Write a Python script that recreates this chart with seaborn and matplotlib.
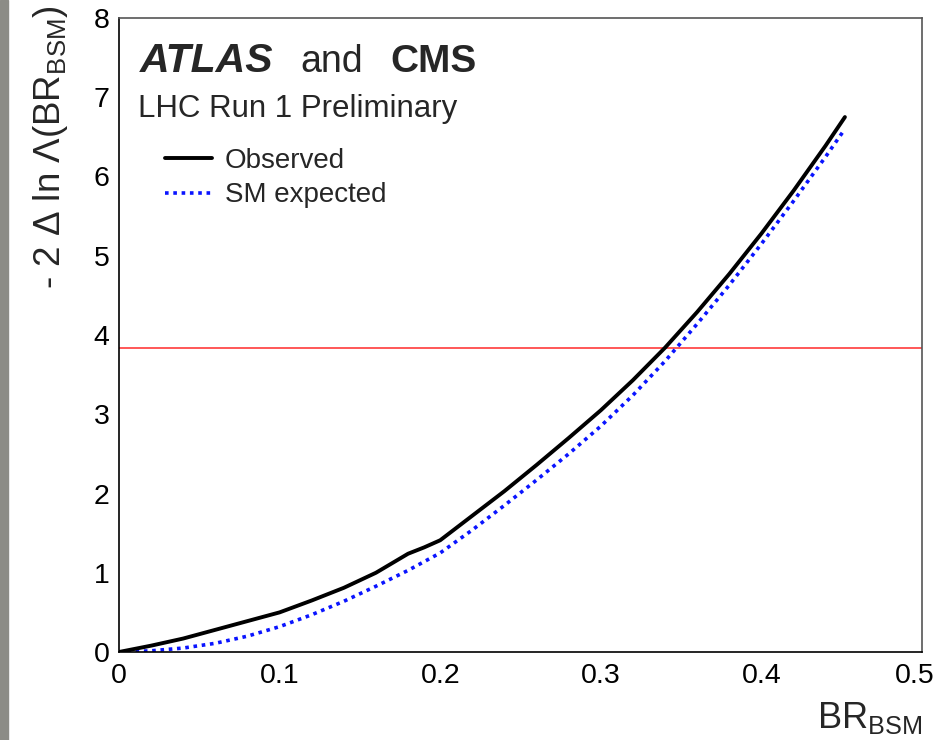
import matplotlib
matplotlib.use("Agg")
import matplotlib.pyplot as plt
import matplotlib.transforms as mtrans
from matplotlib.patches import Rectangle
import seaborn as sns
import pandas as pd

# ---- data ----
br_obs = [0.0, 0.02, 0.04, 0.06, 0.08, 0.10, 0.12, 0.14, 0.16, 0.18, 0.19, 0.20,
          0.22, 0.24, 0.26, 0.28, 0.30, 0.32, 0.34, 0.36, 0.38, 0.40, 0.42, 0.44, 0.452]
nll_obs = [0.0, 0.08, 0.17, 0.28, 0.39, 0.50, 0.65, 0.81, 1.00, 1.24, 1.32, 1.41,
           1.72, 2.03, 2.36, 2.70, 3.05, 3.43, 3.84, 4.29, 4.77, 5.28, 5.82, 6.39, 6.75]
br_exp = [0.0, 0.02, 0.04, 0.06, 0.08, 0.10, 0.12, 0.14, 0.16, 0.18, 0.20,
          0.22, 0.24, 0.26, 0.28, 0.30, 0.32, 0.34, 0.36, 0.38, 0.40, 0.42, 0.44, 0.452]
nll_exp = [0.0, 0.015, 0.05, 0.11, 0.20, 0.32, 0.47, 0.64, 0.83, 1.03, 1.25,
           1.54, 1.85, 2.17, 2.50, 2.85, 3.24, 3.67, 4.14, 4.63, 5.15, 5.69, 6.25, 6.60]
cl95_level = 3.84
x_ticks = [0, 0.1, 0.2, 0.3, 0.4, 0.5]
x_ticklabels = ["0", "0.1", "0.2", "0.3", "0.4", "0.5"]
y_ticks = [0, 1, 2, 3, 4, 5, 6, 7, 8]

obs_df = pd.DataFrame({"BR": br_obs, "val": nll_obs})
exp_df = pd.DataFrame({"BR": br_exp, "val": nll_exp})

sns.set_style("white")
plt.rcParams["font.family"] = ["Liberation Sans", "DejaVu Sans"]
plt.rcParams["mathtext.fontset"] = "custom"
plt.rcParams["mathtext.rm"] = "Liberation Sans"
plt.rcParams["mathtext.it"] = "Liberation Sans:italic"
plt.rcParams["mathtext.bf"] = "Liberation Sans:bold"

fig = plt.figure(figsize=(9.39, 7.40), dpi=100)
fig.patch.set_facecolor("white")
ax = fig.add_axes([119 / 939, 1 - 652 / 740, 803 / 939, 634 / 740])

# left grey frame strip
fig.patches.append(Rectangle((0, 0), 8 / 939, 1, transform=fig.transFigure,
                             color="#8c8c86", zorder=0))

ax.axhline(cl95_level, color="#ff4a4a", lw=1.3, zorder=1)
sns.lineplot(data=obs_df, x="BR", y="val", ax=ax, color="black", lw=2.8,
             label="Observed", sort=False, zorder=3)
sns.lineplot(data=exp_df, x="BR", y="val", ax=ax, color="#0a14ff", lw=2.6,
             linestyle=(0, (1.0, 1.3)), label="SM expected", sort=False, zorder=2)

ax.set_xlim(0, 0.5)
ax.set_ylim(0, 8)
ax.set_xticks(x_ticks)
ax.set_xticklabels(x_ticklabels)
ax.set_yticks(y_ticks)
ax.set_xticks([i * 0.02 for i in range(26)], minor=True)
ax.set_yticks([i * 0.2 for i in range(41)], minor=True)

ax.tick_params(axis="both", which="both", direction="in", labelsize=20.5,
               colors="black", width=1.1, top=False, right=False)
ax.tick_params(axis="x", which="major", length=8.6, pad=8)
ax.tick_params(axis="x", which="minor", length=4.3)
ax.tick_params(axis="y", which="major", length=10, pad=7)
ax.tick_params(axis="y", which="minor", length=5)
# last x label sits slightly inward as in the reference
xlabels = ax.get_xticklabels()
xlabels[-1].set_horizontalalignment("right")
xlabels[-1].set_transform(xlabels[-1].get_transform() +
                          mtrans.ScaledTranslation(13 / 100, 0, fig.dpi_scale_trans))

for side in ["left", "bottom"]:
    ax.spines[side].set_color("black")
    ax.spines[side].set_linewidth(1.2)
for side in ["top", "right"]:
    ax.spines[side].set_color("#555555")
    ax.spines[side].set_linewidth(1.2)

ax.set_xlabel(r"BR$_{\mathrm{BSM}}$", fontsize=26, loc="right")
ax.xaxis.set_label_coords(1.0, -0.075)
ax.set_ylabel(r"- 2 $\Delta$ ln $\Lambda$(BR$_{\mathrm{BSM}}$)", fontsize=26.5, loc="top")
ax.yaxis.set_label_coords(-0.061, 1.02)

# header texts
ax.text(0.026, 0.915, "ATLAS", transform=ax.transAxes, fontsize=29.5,
        fontweight="bold", fontstyle="italic", va="baseline", ha="left")
ax.text(0.2254, 0.915, "and", transform=ax.transAxes, fontsize=27,
        va="baseline", ha="left")
ax.text(0.3375, 0.915, "CMS", transform=ax.transAxes, fontsize=28,
        fontweight="bold", va="baseline", ha="left")
ax.text(0.0237, 0.8443, "LHC Run 1 Preliminary", transform=ax.transAxes,
        fontsize=22.5, va="baseline", ha="left")

leg = ax.legend(loc="upper left", bbox_to_anchor=(0.0573, 0.795), frameon=False,
                fontsize=20, handlelength=1.7, handletextpad=0.45,
                labelspacing=0.3, borderpad=0, borderaxespad=0)

fig.savefig("out.png", dpi=100, facecolor="white")
